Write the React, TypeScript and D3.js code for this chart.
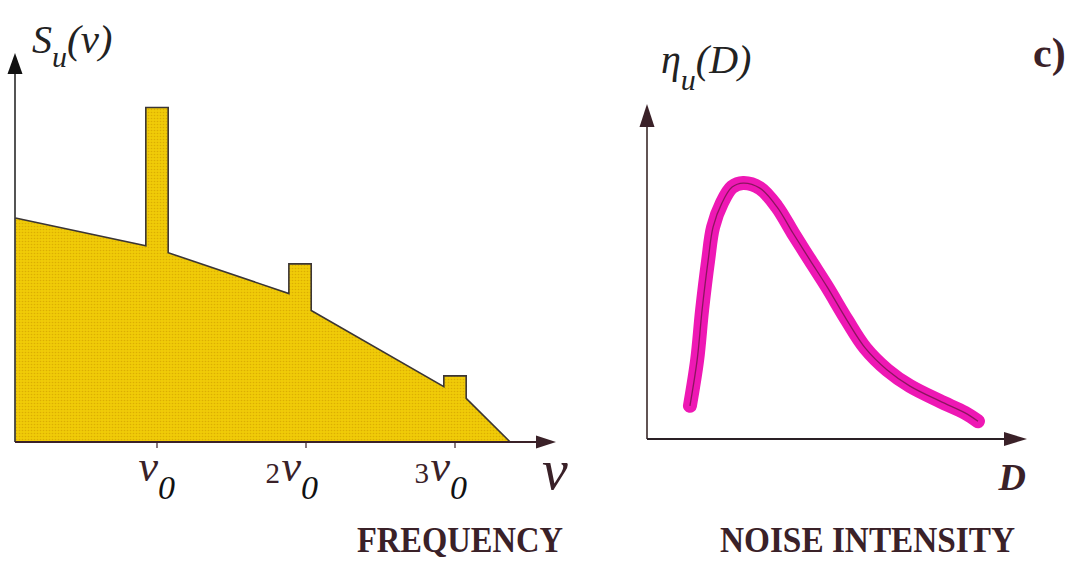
import React from "react";
import * as d3 from "d3";

// Left panel: smooth background spectrum S_u(ν) (frequency in units of ν0)
const spectrumNu = [0.05, 0.93, 1.08, 1.88, 2.03, 2.93, 3.08, 3.37];
const spectrumS = [57.6, 50.4, 48.6, 38.3, 33.9, 14.1, 11.1, 0];
// Narrow peaks riding on the background at the harmonics
const peakNu = [1.0, 1.96, 3.0];
const peakTop = [86, 45.8, 17.0];
const peakHalfWidth = 0.075;
// Harmonic tick marks and their labels
const tickNu = [1, 2, 3];
const tickPrefix = ["", "2", "3"];

// Right panel: stochastic resonance curve η_u(D)
const noiseD = [1.13, 1.32, 1.45, 1.61, 1.74, 1.97, 2.24, 2.53, 2.97, 3.42, 3.84, 4.29, 4.74, 5.26, 5.74, 6.32, 6.92, 7.71, 8.37, 8.71];
const etaU = [0.99, 2.36, 3.85, 5.34, 6.33, 7.04, 7.52, 7.64, 7.49, 6.93, 6.15, 5.34, 4.54, 3.55, 2.72, 2.06, 1.58, 1.13, 0.78, 0.53];

const W = 1077;
const H = 573;
const INK = "#3a2128";
const SERIF = "'Liberation Serif', 'Times New Roman', serif";

export default function App() {
  // ---- left panel scales ----
  const xL = d3.scaleLinear().domain([1, 3]).range([157, 455]);
  const yL = d3.scaleLinear().domain([0, 100]).range([442, 53]);
  const bg = d3.scaleLinear().domain(spectrumNu).range(spectrumS);

  // Build the outline: background with rectangular peaks inserted
  const inPeak = (n: number) =>
    peakNu.some((p) => n > p - peakHalfWidth - 0.02 && n < p + peakHalfWidth + 0.02);
  const merged: { nu: number; s: number }[] = spectrumNu
    .map((n, i) => ({ nu: n, s: spectrumS[i] }))
    .filter((e) => !inPeak(e.nu));
  peakNu.forEach((p, i) => {
    const l = p - peakHalfWidth;
    const r = p + peakHalfWidth;
    merged.push({ nu: l - 1e-6, s: bg(l) });
    merged.push({ nu: l, s: peakTop[i] });
    merged.push({ nu: r, s: peakTop[i] });
    merged.push({ nu: r + 1e-6, s: bg(r) });
  });
  merged.sort((a, b) => a.nu - b.nu);
  const pts: [number, number][] = merged.map((m) => [xL(m.nu), yL(m.s)]);

  const x0 = xL(spectrumNu[0]);
  const xEnd = xL(spectrumNu[spectrumNu.length - 1]);
  const lineGen = d3.line<[number, number]>();
  const outline = lineGen(pts) || "";
  const area =
    lineGen([[x0, yL(0)], ...pts, [xEnd, yL(0)]] as [number, number][]) + "Z";

  // ---- right panel scales ----
  const xR = d3.scaleLinear().domain([0, 10]).range([647, 1027]);
  const yR = d3.scaleLinear().domain([0, 10]).range([439, 104]);
  const curve =
    d3
      .line<number>()
      .x((_, i) => xR(noiseD[i]))
      .y((e) => yR(e))
      .curve(d3.curveCatmullRom.alpha(0.5))(etaU) || "";

  const axisY0 = yL(0);
  const axisYR = yR(0);

  return (
    <svg width={W} height={H} style={{ position: "absolute", left: 0, top: 0, background: "#fff" }}>
      <defs>
        <pattern id="halftone" width="3" height="3" patternUnits="userSpaceOnUse">
          <rect width="3" height="3" fill="#F0CB08" />
          <circle cx="1.5" cy="1.5" r="0.8" fill="#D4A200" opacity="0.7" />
        </pattern>
      </defs>

      {/* ---------- left panel ---------- */}
      <path d={area} fill="url(#halftone)" />
      <path d={outline} fill="none" stroke="#3b3535" strokeWidth={1.6} />

      {/* y axis */}
      <line x1={15} x2={15} y1={axisY0} y2={72} stroke="#2a2a2a" strokeWidth={1.6} />
      <path d={`M15,53 L7.5,74 L22.5,74 Z`} fill="#111" />
      {/* x axis */}
      <line x1={15} x2={540} y1={axisY0} y2={axisY0} stroke={INK} strokeWidth={2} />
      <path d={`M556,${axisY0} L536,${axisY0 - 6.5} L536,${axisY0 + 6.5} Z`} fill={INK} />
      {tickNu.map((t) => (
        <line key={t} x1={xL(t)} x2={xL(t)} y1={axisY0} y2={axisY0 + 6} stroke={INK} strokeWidth={1.2} />
      ))}
      {tickNu.map((t, i) => {
        const shift = tickPrefix[i] ? -6 : 0;
        const cx = xL(t) + shift;
        return (
          <g key={"l" + t} fontFamily={SERIF} fill={INK}>
            {tickPrefix[i] && (
              <text x={cx - 20} y={483} textAnchor="end" fontSize={29}>
                {tickPrefix[i]}
              </text>
            )}
            <text x={cx + 1} y={481} textAnchor="end" fontSize={44} fontStyle="italic">
              ν
            </text>
            <text x={cx + 1} y={499} fontSize={34} fontStyle="italic" fill="#111">
              0
            </text>
          </g>
        );
      })}
      <text x={542} y={489} fontFamily={SERIF} fontSize={58} fontStyle="italic" fill={INK}>
        ν
      </text>
      <text
        x={357}
        y={552}
        fontFamily={SERIF}
        fontSize={36}
        fontWeight="bold"
        fill={INK}
        textLength={206}
        lengthAdjust="spacingAndGlyphs"
      >
        FREQUENCY
      </text>
      {/* S_u(ν) */}
      <text x={32} y={53} fontFamily={SERIF} fontStyle="italic" fill="#222">
        <tspan fontSize={40}>S</tspan>
        <tspan fontSize={30} dy={14}>u</tspan>
        <tspan fontSize={41} dy={-14}>(ν)</tspan>
      </text>

      {/* ---------- right panel ---------- */}
      <line x1={647} x2={647} y1={axisYR} y2={124} stroke="#3a2a2a" strokeWidth={1.6} />
      <path d={`M647,104 L639.5,127 L654.5,127 Z`} fill={INK} />
      <line x1={647} x2={1008} y1={axisYR} y2={axisYR} stroke="#2a2025" strokeWidth={2} />
      <path d={`M1027,${axisYR} L1004,${axisYR - 7} L1004,${axisYR + 7} Z`} fill={INK} />

      <path d={curve} fill="none" stroke="#EE18B4" strokeWidth={14} strokeLinecap="round" strokeLinejoin="round" />
      <path d={curve} fill="none" stroke="#7a1450" strokeWidth={1.3} opacity={0.85} />

      <text x={661} y={73} fontFamily={SERIF} fontStyle="italic" fill="#222">
        <tspan fontSize={40}>η</tspan>
        <tspan fontSize={30} dy={17}>u</tspan>
        <tspan fontSize={40} dy={-17}>(D)</tspan>
      </text>
      <text x={1026} y={490} textAnchor="end" fontFamily={SERIF} fontSize={38} fontWeight="bold" fontStyle="italic" fill={INK}>
        D
      </text>
      <text
        x={720}
        y={552}
        fontFamily={SERIF}
        fontSize={36}
        fontWeight="bold"
        fill={INK}
        textLength={295}
        lengthAdjust="spacingAndGlyphs"
      >
        NOISE INTENSITY
      </text>
      <text x={1033} y={67} fontFamily={SERIF} fontSize={42} fontWeight="bold" fill={INK}>
        c)
      </text>
    </svg>
  );
}
